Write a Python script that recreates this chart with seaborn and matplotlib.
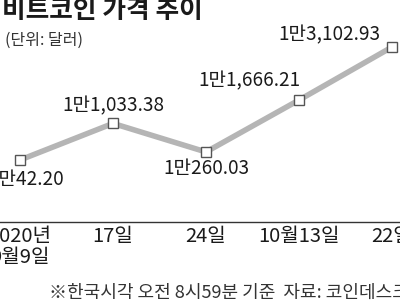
import matplotlib
matplotlib.use("Agg")
import matplotlib.pyplot as plt
import seaborn as sns
import pandas as pd
import numpy as np

dates = ["2020년\n9월9일", "17일", "24일", "10월13일", "22일"]
prices = [10042.20, 11033.38, 10260.03, 11666.21, 13102.93]
labels = ["1만42.20", "1만1,033.38", "1만260.03", "1만1,666.21", "1만3,102.93"]
title = "비트코인 가격 추이"
unit = "(단위: 달러)"
note = "※한국시각 오전 8시59분 기준  자료: 코인데스크"

sns.set_style("white")
plt.rcParams['font.family'] = ['Noto Sans CJK KR', 'DejaVu Sans']

df = pd.DataFrame({"x": np.arange(len(dates)), "price": prices})

fig = plt.figure(figsize=(4, 3), dpi=100)
ax = fig.add_axes([0, 78/300, 1, 222/300])

sns.lineplot(data=df, x="x", y="price", ax=ax, color="#b5b5b5", linewidth=4,
             marker="s", markersize=6.5, markerfacecolor="white",
             markeredgecolor="#555555", markeredgewidth=1.0)

ax.set_xlim(-0.215, 4.086)
ax.set_ylim(8362, 14378)

offsets = [(6, -20), (0, 18), (0, -17), (-50, 19), (-63, 12)]
for xi, yi, lab, off in zip(df["x"], df["price"], labels, offsets):
    ax.annotate(lab, (xi, yi), xytext=off, textcoords="offset pixels",
                ha="center", va="center", fontsize=13.7, color="#1a1a1a")

for s in ["top", "right", "left"]:
    ax.spines[s].set_visible(False)
ax.spines["bottom"].set_color("#333333")
ax.spines["bottom"].set_linewidth(1.0)
ax.set_yticks([])
ax.set_xticks(df["x"])
ax.set_xticklabels(dates, fontsize=14.5, color="#1a1a1a", linespacing=1.0)
ax.tick_params(axis="x", direction="in", length=8.6, width=1, color="#333333", pad=3)
ax.set_xlabel("")
ax.set_ylabel("")
ax.patch.set_alpha(0)

fig.text(0.005, 1.01, title, fontsize=18.5, fontweight="bold", ha="left", va="top", color="#1a1a1a")
fig.text(0.012, 0.865, unit, fontsize=11.5, ha="left", va="center", color="#333333")
fig.text(0.122, 0.025, note, fontsize=13, ha="left", va="center", color="#333333")

fig.savefig("out.png", dpi=100)
